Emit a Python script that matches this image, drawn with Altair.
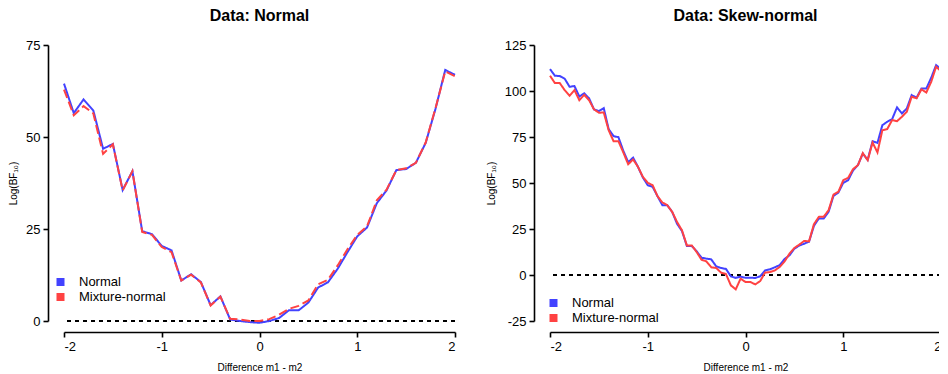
import altair as alt
import pandas as pd

FONT = "Liberation Sans"
SERIES = ["Normal", "Mixture-normal"]
COLORS = ["#4242FF", "#FF4242"]

# ---- Panel 1: Data: Normal (step 0.1) ----
x_left = [-2.0, -1.9, -1.8, -1.7, -1.6, -1.5, -1.4, -1.3, -1.2, -1.1,
          -1.0, -0.9, -0.8, -0.7, -0.6, -0.5, -0.4, -0.3, -0.2, -0.1,
          0.0, 0.1, 0.2, 0.3, 0.4, 0.5, 0.6, 0.7, 0.8, 0.9,
          1.0, 1.1, 1.2, 1.3, 1.4, 1.5, 1.6, 1.7, 1.8, 1.9, 2.0]
left_normal = [64.5, 56.5, 60.2, 57.2, 46.8, 48.1, 35.6, 40.7, 24.4, 23.6,
               20.4, 19.2, 11.0, 12.7, 10.6, 4.3, 6.7, 0.4, 0.0, -0.3,
               -0.5, 0.0, 0.8, 2.9, 2.9, 5.0, 9.1, 10.5, 14.2, 18.7,
               23.0, 25.4, 32.0, 35.5, 41.0, 41.3, 43.0, 48.4, 57.6, 68.2, 66.9]
left_mixture = [62.9, 55.9, 58.4, 56.4, 45.4, 48.0, 35.5, 40.7, 24.2, 23.4,
                20.1, 18.7, 11.0, 12.6, 10.5, 4.2, 6.6, 0.6, 0.4, 0.0,
                0.0, 0.5, 1.7, 3.3, 4.1, 5.6, 10.0, 11.2, 15.1, 19.5,
                23.4, 25.7, 32.8, 35.7, 41.0, 41.5, 43.0, 48.5, 57.8, 67.8, 66.5]

# ---- Panel 2: Data: Skew-normal (step 0.05) ----
x_right = [-2.0, -1.95, -1.9, -1.85, -1.8, -1.75, -1.7, -1.65, -1.6, -1.55,
           -1.5, -1.45, -1.4, -1.35, -1.3, -1.25, -1.2, -1.15, -1.1, -1.05,
           -1.0, -0.95, -0.9, -0.85, -0.8, -0.75, -0.7, -0.65, -0.6, -0.55,
           -0.5, -0.45, -0.4, -0.35, -0.3, -0.25, -0.2, -0.15, -0.1, -0.05,
           0.0, 0.05, 0.1, 0.15, 0.2, 0.25, 0.3, 0.35, 0.4, 0.45,
           0.5, 0.55, 0.6, 0.65, 0.7, 0.75, 0.8, 0.85, 0.9, 0.95,
           1.0, 1.05, 1.1, 1.15, 1.2, 1.25, 1.3, 1.35, 1.4, 1.45,
           1.5, 1.55, 1.6, 1.65, 1.7, 1.75, 1.8, 1.85, 1.9, 1.95, 2.0]
right_normal = [111.9, 108.3, 108.1, 106.7, 102.3, 102.7, 97.0, 98.7, 96.0, 90.0,
                89.1, 90.7, 79.3, 75.5, 74.9, 67.5, 61.3, 63.8, 58.8, 53.0,
                48.8, 47.9, 42.8, 37.9, 37.9, 34.3, 27.8, 23.9, 15.8, 15.8,
                12.9, 9.4, 8.9, 8.5, 4.7, 3.8, 3.3, -0.7, -1.6, -0.9,
                -1.5, -1.5, -1.6, -0.7, 2.5, 3.1, 4.2, 5.4, 8.7, 10.7,
                14.3, 16.0, 17.0, 18.1, 26.7, 30.7, 30.7, 34.3, 43.0, 44.8,
                50.1, 51.5, 56.8, 59.7, 66.0, 62.6, 72.7, 71.8, 81.4, 83.3,
                84.7, 91.1, 87.8, 90.5, 97.8, 96.3, 101.4, 101.4, 107.2, 114.1, 111.9]
right_mixture = [108.3, 104.3, 104.3, 100.5, 97.4, 100.5, 95.0, 97.9, 95.0, 90.0,
                 88.2, 88.3, 78.7, 72.7, 72.7, 66.6, 60.2, 62.8, 58.8, 53.3,
                 50.1, 48.8, 42.8, 39.4, 37.9, 34.3, 28.8, 24.3, 16.1, 16.1,
                 12.5, 8.3, 7.4, 4.2, 3.8, 1.3, 0.5, -5.6, -7.8, -2.0,
                 -3.8, -3.8, -5.1, -3.3, 1.3, 1.6, 2.5, 4.4, 7.4, 11.6,
                 14.7, 16.5, 18.5, 18.3, 27.6, 31.6, 31.7, 35.2, 43.7, 45.2,
                 51.5, 52.8, 57.5, 59.7, 66.2, 62.4, 72.0, 66.6, 78.7, 79.3,
                 84.2, 83.6, 86.0, 88.7, 96.9, 96.0, 100.9, 99.2, 105.0, 113.2, 110.8]

x_ticks = [-2, -1, 0, 1, 2]
y_ticks_left = [0, 25, 50, 75]
y_ticks_right = [-25, 0, 25, 50, 75, 100, 125]


def long_df(xs, a, b):
    return pd.DataFrame({
        "x": xs + xs,
        "y": a + b,
        "series": ["Normal"] * len(xs) + ["Mixture-normal"] * len(xs),
    })


NUM_LABEL = "datum.value < 0 ? '-' + abs(datum.value) : '' + datum.value"
# four stacked strokes that together read as a filled square
SQUARE_PATH = "M-1,-0.75H1M-1,-0.25H1M-1,0.25H1M-1,0.75H1"


def make_legend(x, y):
    return alt.Legend(title=None, orient="none", legendX=x, legendY=y,
                      symbolType=SQUARE_PATH, symbolSize=64,
                      symbolStrokeWidth=2.1, symbolDash=[1, 0], symbolOpacity=1,
                      labelFont=FONT, labelFontSize=13, labelColor="black",
                      labelOffset=12, rowPadding=0, padding=0)


def panel(df, title, ydomain, yticks, dashes, legend):
    xaxis = alt.Axis(values=x_ticks, labelExpr=NUM_LABEL, grid=False, offset=11,
                     domainColor="black", domainWidth=1.6, tickColor="black",
                     tickWidth=1.6, tickSize=5, labelFont=FONT, labelFontSize=13,
                     labelColor="black", labelPadding=3, title="Difference m1 - m2",
                     titleFont=FONT, titleFontSize=10, titleFontWeight="normal",
                     titleColor="black", titlePadding=9)
    yaxis = alt.Axis(values=yticks, labelExpr=NUM_LABEL, grid=False, offset=16,
                     domainColor="black", domainWidth=1.6, tickColor="black",
                     tickWidth=1.6, tickSize=5, labelFont=FONT, labelFontSize=13,
                     labelColor="black", labelPadding=3, title="Log(BF₁₀)",
                     titleFont=FONT, titleFontSize=10, titleFontWeight="normal",
                     titleColor="black", titlePadding=7.4)
    X = alt.X("x:Q", scale=alt.Scale(domain=[-2, 2], nice=False, zero=False), axis=xaxis)
    Y = alt.Y("y:Q", scale=alt.Scale(domain=ydomain, nice=False, zero=False), axis=yaxis)

    base = alt.Chart(df)
    zero = base.mark_rule(color="black", strokeWidth=2, strokeDash=[4, 4]).encode(y=alt.datum(0))
    lines = base.mark_line(strokeWidth=2).encode(
        x=X, y=Y,
        color=alt.Color("series:N", scale=alt.Scale(domain=SERIES, range=COLORS), legend=legend),
        strokeDash=alt.StrokeDash("series:N", scale=alt.Scale(domain=SERIES, range=dashes),
                                  legend=None),
        order=alt.Order("x:Q"),
    )
    return alt.layer(zero, lines).properties(
        width=391, height=276,
        title=alt.TitleParams(title, font=FONT, fontSize=16, fontWeight="bold",
                              color="black", anchor="middle", offset=15),
    )


left = panel(long_df(x_left, left_normal, left_mixture), "Data: Normal",
             [0, 75], y_ticks_left, [[1, 0], [9, 4]], make_legend(-10, 230.5))
right = panel(long_df(x_right, right_normal, right_mixture), "Data: Skew-normal",
              [-25, 125], y_ticks_right, [[1, 0], [1, 0]], make_legend(-3, 251.5))

chart = alt.hconcat(left, right, spacing=27).resolve_scale(
    y="independent", color="independent", strokeDash="independent"
).resolve_legend(color="independent", strokeDash="independent").properties(
    padding={"left": 0, "top": 0, "right": -6, "bottom": 0}
).configure_view(stroke=None)

chart.save("out.html", embed_options={"renderer": "svg", "actions": False})
